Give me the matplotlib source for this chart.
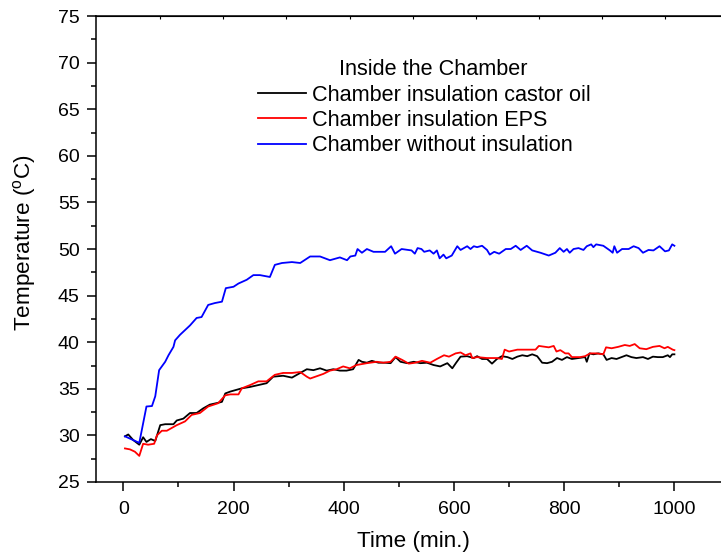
import matplotlib
matplotlib.use("Agg")
import matplotlib.pyplot as plt

plt.rcParams["font.family"] = ["Liberation Sans", "DejaVu Sans"]

# readings: time (min) and temperature (degC)
t_castor = [3, 9, 18, 29, 36, 42, 50, 58, 67, 76, 91, 97, 109, 121, 133, 145, 157, 172,
            179, 185, 194, 206, 215, 230, 245, 260, 272, 290, 306, 321, 333, 345, 357,
            369, 381, 393, 405, 417, 427, 433, 442, 451, 463, 475, 485, 494, 503, 515,
            527, 539, 551, 563, 575, 588, 597, 604, 612, 624, 636, 642, 651, 660, 669,
            678, 687, 697, 706, 715, 724, 733, 742, 751, 760, 769, 778, 787, 796, 805,
            814, 826, 838, 841, 846, 853, 862, 871, 877, 886, 895, 904, 913, 922, 931,
            943, 952, 961, 970, 979, 988, 992, 996, 1000]
T_castor = [29.9, 30.1, 29.5, 29.0, 29.8, 29.3, 29.6, 29.4, 31.1, 31.2, 31.2, 31.6, 31.8,
            32.4, 32.4, 32.9, 33.3, 33.5, 33.6, 34.5, 34.7, 34.9, 35.05, 35.2, 35.4, 35.6,
            36.3, 36.4, 36.2, 36.7, 37.1, 37.0, 37.2, 36.95, 37.1, 36.95, 36.95, 37.1,
            38.1, 37.9, 37.8, 38.0, 37.8, 37.8, 37.75, 38.4, 37.9, 37.75, 37.9, 37.75,
            37.8, 37.55, 37.4, 37.75, 37.2, 37.8, 38.45, 38.5, 38.3, 38.5, 38.2, 38.2,
            37.7, 38.2, 38.5, 38.4, 38.2, 38.45, 38.6, 38.5, 38.7, 38.5, 37.8, 37.75,
            37.9, 38.3, 38.1, 38.4, 38.2, 38.3, 38.4, 37.9, 38.8, 38.7, 38.8, 38.7, 38.1,
            38.3, 38.2, 38.4, 38.6, 38.4, 38.3, 38.4, 38.2, 38.45, 38.4, 38.4, 38.6, 38.4,
            38.7, 38.7]

t_eps = [3, 12, 21, 29, 36, 45, 56, 61, 70, 79, 88, 97, 112, 124, 139, 154, 172, 185,
         194, 209, 215, 230, 245, 260, 275, 290, 306, 321, 333, 339, 351, 363, 375, 387,
         399, 411, 423, 442, 460, 472, 485, 494, 506, 518, 530, 542, 557, 569, 582, 591,
         603, 612, 621, 630, 633, 642, 660, 678, 687, 692, 700, 715, 733, 748, 754, 766,
         772, 781, 786, 793, 802, 808, 814, 829, 838, 847, 859, 871, 876, 886, 898, 910,
         919, 928, 937, 949, 961, 973, 982, 988, 997, 1000]
T_eps = [28.6, 28.5, 28.25, 27.8, 29.1, 29.0, 29.1, 30.0, 30.5, 30.5, 30.8, 31.1, 31.5,
         32.2, 32.4, 33.1, 33.45, 34.3, 34.4, 34.4, 35.05, 35.4, 35.8, 35.8, 36.5, 36.7,
         36.7, 36.8, 36.3, 36.1, 36.35, 36.6, 36.95, 37.1, 37.4, 37.2, 37.55, 37.75,
         37.9, 37.8, 37.9, 38.45, 38.1, 37.7, 37.8, 38.0, 37.8, 38.2, 38.6, 38.45, 38.8,
         38.9, 38.6, 38.8, 38.3, 38.4, 38.3, 38.3, 38.2, 39.2, 39.0, 39.2, 39.2, 39.2,
         39.6, 39.5, 39.45, 39.6, 39.0, 39.15, 38.8, 38.8, 38.4, 38.4, 38.5, 38.8, 38.8,
         38.7, 39.45, 39.35, 39.5, 39.7, 39.6, 39.8, 39.35, 39.25, 39.5, 39.6, 39.35,
         39.5, 39.2, 39.15]

t_bare = [3, 29, 42, 52, 58, 65, 76, 82, 91, 94, 103, 121, 133, 142, 154, 166, 179, 186,
          200, 209, 224, 236, 248, 266, 275, 288, 306, 321, 339, 357, 375, 393, 406, 412,
          421, 425, 433, 442, 454, 475, 486, 493, 505, 523, 529, 534, 541, 546, 556, 563,
          569, 574, 581, 586, 596, 606, 612, 624, 630, 636, 642, 651, 660, 665, 673, 682,
          694, 703, 712, 721, 732, 742, 757, 772, 784, 792, 799, 805, 810, 817, 826, 835,
          841, 849, 853, 858, 871, 883, 888, 891, 896, 905, 917, 926, 935, 943, 953, 962,
          973, 983, 990, 996, 1000]
T_bare = [29.9, 29.2, 33.1, 33.15, 34.2, 37.0, 37.9, 38.6, 39.5, 40.2, 40.8, 41.8, 42.6,
          42.7, 44.0, 44.2, 44.35, 45.8, 45.95, 46.3, 46.7, 47.2, 47.2, 47.0, 48.3, 48.5,
          48.6, 48.5, 49.2, 49.2, 48.8, 49.1, 48.8, 49.2, 49.3, 50.0, 49.6, 50.0, 49.7,
          49.7, 50.3, 49.5, 50.0, 49.85, 49.5, 50.1, 50.0, 49.7, 49.85, 49.5, 49.85, 49.0,
          49.4, 49.0, 49.3, 50.3, 49.9, 50.3, 50.0, 50.3, 50.2, 50.35, 49.9, 49.4, 49.7,
          49.5, 50.0, 50.0, 50.35, 49.9, 50.35, 49.85, 49.6, 49.3, 49.6, 50.1, 49.7, 50.0,
          49.6, 50.0, 50.1, 49.9, 50.3, 50.5, 50.2, 50.5, 50.35, 49.85, 49.6, 50.3, 49.6,
          50.0, 50.0, 50.3, 50.1, 49.6, 49.9, 49.85, 50.3, 49.75, 49.85, 50.5, 50.35]

labels = ["Chamber insulation castor oil", "Chamber insulation EPS",
          "Chamber without insulation"]

fig = plt.figure(figsize=(7.21, 5.54), dpi=100)
ax = fig.add_axes([0.1328, 0.130, 0.879, 0.841])
ax.plot(t_castor, T_castor, color="black", lw=1.3, label=labels[0])
ax.plot(t_eps, T_eps, color="red", lw=1.3, label=labels[1])
ax.plot(t_bare, T_bare, color="blue", lw=1.3, label=labels[2])

ax.set_xlim(-50, 1100)
ax.set_ylim(25, 75)
ax.set_xticks(range(0, 1001, 200))
ax.set_xticks(range(100, 1100, 200), minor=True)
ax.set_yticks(range(25, 76, 5))
ax.set_yticks([27.5 + 5 * i for i in range(10)], minor=True)
ax.tick_params(which="major", direction="out", length=6.5, width=1.1, labelsize=14)
ax.tick_params(axis="x", which="major", pad=7)
ax.tick_params(axis="y", which="major", pad=5)
ax.tick_params(which="minor", direction="out", length=3.5, width=1.1)
for s in ("left", "bottom", "top"):
    ax.spines[s].set_linewidth(1.1)
ax.spines["right"].set_visible(False)

# small inward ticks on the top spine
top = ax.secondary_xaxis("top")
top.set_xticks([67 + 114.5 * i for i in range(10)])
top.tick_params(direction="in", length=2, width=0.8, labeltop=False)

ax.set_xlabel("Time (min.)", fontsize=16.2)
ax.set_ylabel("Temperature ($^{\\mathregular{o}}$C)", fontsize=16.2)
ax.xaxis.set_label_coords(0.502, -0.105)
ax.yaxis.set_label_coords(-0.091, 0.513)

# leading spaces nudge the centred title to the right, as in the original
leg = ax.legend(title="   Inside the Chamber", loc="upper left",
                bbox_to_anchor=(0.232, 0.94), frameon=False, fontsize=15.6,
                title_fontsize=15.6, handlelength=2.2, handletextpad=0.28,
                labelspacing=0.2, borderpad=0.2)

fig.savefig("out.png", dpi=100)
